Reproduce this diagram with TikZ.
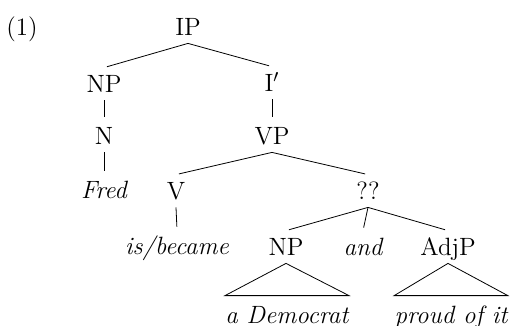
\documentclass[tikz,border=0pt]{standalone}
\begin{document}
\begin{tikzpicture}[x=0.5pt,y=-0.5pt,
  every node/.style={font=\fontsize{12.5}{15}\selectfont,
    text height=8.5pt,text depth=0pt,inner xsep=0pt,inner ysep=3.75pt},
  edge/.style={shorten >=1.5pt}]
\useasboundingbox (0,0) rectangle (514,326);
\node (ex) at (22,27) {(1)};
\node (ip) at (188,27) {IP};
\node (np1) at (104,84) {NP};
\node (n) at (104,136) {N};
\node (fred) at (104,190) {\itshape Fred};
\node (ibar) at (272,83) {I$'$};
\node (vp) at (272,136) {VP};
\node (v) at (176,191) {V};
\node (became) at (177,246) {\itshape is/became};
\node (qq) at (368,191) {??};
\node (np2) at (286,247) {NP};
\node (and) at (363,247) {\itshape and};
\node (adjp) at (448,247) {AdjP};
\node (dem) at (287,315) {\itshape a Democrat};
\node (proud) at (451,315) {\itshape proud of it};
% branches
\draw[edge] (ip.south) -- (np1.north);
\draw[edge] (ip.south) -- (ibar.north);
\draw[edge] (np1.south) -- (n.north);
\draw[edge] (n.south) -- (fred.north);
\draw[edge] (ibar.south) -- (vp.north);
\draw[edge] (vp.south) -- (v.north);
\draw[edge] (vp.south) -- (qq.north);
\draw[edge] (v.south) -- (became.north);
\draw[edge] (qq.south) -- (np2.north);
\draw[edge] (qq.south) -- (and.north);
\draw[edge] (qq.south) -- (adjp.north);
% triangles
\draw (np2.south) -- ([yshift=1.5pt]dem.north west)
  -- ([yshift=1.5pt]dem.north east) -- cycle;
\draw (adjp.south) -- ([yshift=1.5pt]proud.north west)
  -- ([yshift=1.5pt]proud.north east) -- cycle;
\end{tikzpicture}
\end{document}
